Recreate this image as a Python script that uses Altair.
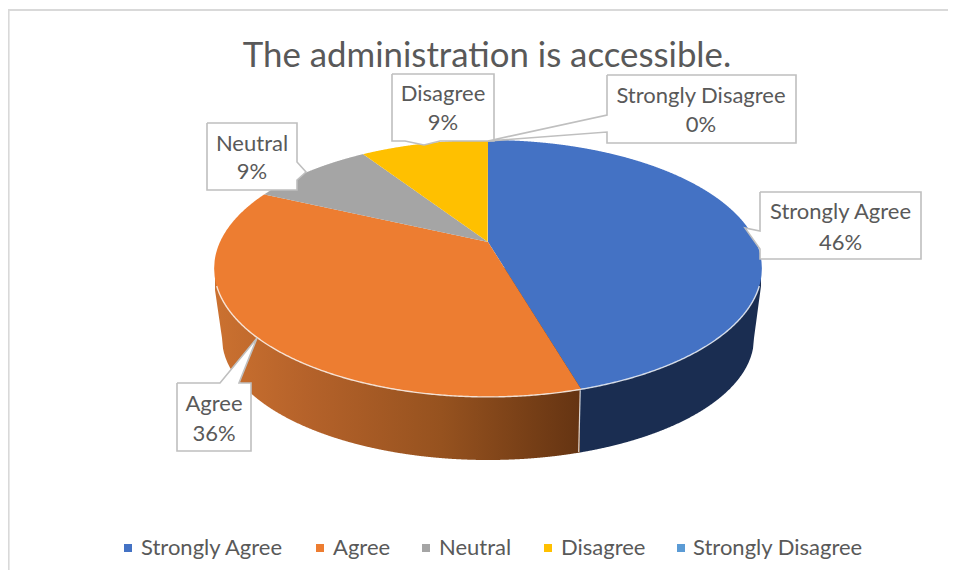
import numpy as np
import pandas as pd
import altair as alt

# ---- data ----
categories = ["Strongly Agree", "Agree", "Neutral", "Disagree", "Strongly Disagree"]
values = [45.5, 36.4, 8.9, 9.2, 0.0]
pct_labels = ["46%", "36%", "9%", "9%", "0%"]
colors = ["#4472C4", "#ED7D31", "#A5A5A5", "#FFC000", "#5B9BD5"]
title_text = "The administration is accessible."

# ---- layout (page pixels) ----
W, H = 940, 562
CX, CY, R, K, A = 488.0, 242.0, 268.0, 0.206, 123.0   # perspective disc
xs = alt.Scale(domain=[8, 948], range=[0, W], nice=False, zero=False)
ys = alt.Scale(domain=[570, 8], range=[H, 0], nice=False, zero=False)
X = lambda f="x": alt.X(f"{f}:Q", scale=xs, axis=None)
Y = lambda f="y": alt.Y(f"{f}:Q", scale=ys, axis=None, stack=False)
FONT = "Lato"
TXT = "#595959"
EDGE = "#BFBFBF"
LABEL_SIZE = 22
TITLE_SIZE = 34.8


def rim(deg):
    t = np.radians(np.asarray(deg, float))
    u, v = np.sin(t), -np.cos(t)
    w = 1 - K * v
    return CX + R * u / w, CY + A * v / w


def scan(px, py, step=0.5):
    """Vertical extent of a closed polygon for each x column."""
    px, py = np.asarray(px, float), np.asarray(py, float)
    grid = np.arange(px.min(), px.max() + step, step)
    grid[-1] = px.max()
    low, high = np.full(grid.shape, np.inf), np.full(grid.shape, -np.inf)
    for i in range(len(px)):
        j = (i + 1) % len(px)
        a, b = min(px[i], px[j]), max(px[i], px[j])
        m = (grid >= a) & (grid <= b)
        if a == b:
            low[m] = np.minimum(low[m], min(py[i], py[j]))
            high[m] = np.maximum(high[m], max(py[i], py[j]))
            continue
        yy = py[i] + (grid[m] - px[i]) * (py[j] - py[i]) / (px[j] - px[i])
        low[m] = np.minimum(low[m], yy)
        high[m] = np.maximum(high[m], yy)
    return grid, low, high


# top face wedges
rows = []
start = 0.0
ends = {}
for cat, val in zip(categories, values):
    end = start + val * 3.6
    ends[cat] = end
    if val > 0:
        rx, ry = rim(np.linspace(start, end, 400))
        gx, lo, hi = scan(np.r_[CX, rx], np.r_[CY, ry])
        rows += [{"cat": cat, "x": a, "y": b, "y2": c} for a, b, c in zip(gx, lo, hi)]
    start = end
top_df = pd.DataFrame(rows)

# side wall: lower ellipse plus tangents up to the rim
ex = np.linspace(-266, 266, 535)
ey = 338 + 122 * np.sqrt(np.clip(1 - (ex / 266) ** 2, 0, 1))
hull_x = np.r_[215.0, 488 + ex, 761.0]
hull_y = np.r_[290.0, ey, 286.0]
split_x, split_y = rim(ends["Strongly Agree"])
wall_x = np.arange(215, 761.5, 0.5)
wall_df = pd.DataFrame({"x": wall_x, "y": 268.0, "y2": np.interp(wall_x, hull_x, hull_y)})
wall_left = wall_df[wall_df.x <= split_x - 1].copy()
wall_right = wall_df[wall_df.x >= split_x - 1.5].copy()

wall_orange = alt.Chart(wall_left).mark_area(
    color=alt.Gradient(
        gradient="linear", x1=0, x2=1, y1=0, y2=0,
        stops=[
            alt.GradientStop(color="#CB7130", offset=0),
            alt.GradientStop(color="#B5622A", offset=0.25),
            alt.GradientStop(color="#96521F", offset=0.62),
            alt.GradientStop(color="#653412", offset=1),
        ],
    )
).encode(x=X(), y=Y(), y2=alt.Y2("y2:Q"))
wall_blue = alt.Chart(wall_right).mark_area(color="#1A2D51").encode(
    x=X(), y=Y(), y2=alt.Y2("y2:Q")
)

top = alt.Chart(top_df).mark_area().encode(
    x=X(), y=Y(), y2=alt.Y2("y2:Q"),
    color=alt.Color("cat:N", scale=alt.Scale(domain=categories, range=colors), legend=None),
)

# front rim highlight and wall divider
fr_deg = np.linspace(90, 270, 500)
frx, fry = rim(fr_deg)
rim_df = pd.DataFrame({"x": frx, "y": fry, "i": np.arange(len(frx))})
rim_line = alt.Chart(rim_df[rim_df.y > 286]).mark_line(
    color="#FFFFFF", strokeWidth=1.4, opacity=0.8
).encode(x=X(), y=Y(), order="i:Q")
div_df = pd.DataFrame({"x": [split_x - 1, split_x - 2.5], "y": [split_y + 1, 452], "i": [0, 1]})
divider = alt.Chart(div_df).mark_line(color="#FFFFFF", strokeWidth=1.2, opacity=0.8).encode(
    x=X(), y=Y(), order="i:Q"
)

# callouts: box (x0, x1, y0, y1), outline vertices with pointer
boxes = {
    "Strongly Agree": (760, 921, 192, 259),
    "Agree": (177, 251, 383, 451),
    "Neutral": (207, 297, 123, 190),
    "Disagree": (392, 494, 74, 141),
    "Strongly Disagree": (607, 796, 75, 143),
}
pointers = {
    "Strongly Agree": [(760, 231), (745, 228), (760, 249)],
    "Agree": [(220, 383), (257, 338), (239, 383)],
    "Neutral": [(297, 162), (306, 172), (297, 180)],
    "Disagree": [(440, 141), (424, 145), (405, 141)],
    "Strongly Disagree": [(607, 115), (488, 141), (607, 132)],
}
box_rows, tri_rows, out_rows = [], [], []
for cat, (x0, x1, y0, y1) in boxes.items():
    box_rows.append({"x": x0, "x2": x1, "y": y0, "y2": y1})
    p = pointers[cat]
    gx, lo, hi = scan([q[0] for q in p], [q[1] for q in p], 0.25)
    tri_rows += [{"cat": cat, "x": a, "y": b, "y2": c} for a, b, c in zip(gx, lo, hi)]
    if cat == "Strongly Agree" or cat == "Strongly Disagree":
        path = [(x0, y0), (x1, y0), (x1, y1), (x0, y1), p[2], p[1], p[0], (x0, y0)]
    elif cat == "Neutral":
        path = [(x0, y0), (x1, y0), p[0], p[1], p[2], (x1, y1), (x0, y1), (x0, y0)]
    elif cat == "Agree":
        path = [(x0, y0), p[0], p[1], p[2], (x1, y0), (x1, y1), (x0, y1), (x0, y0)]
    else:
        path = [(x0, y0), (x1, y0), (x1, y1), p[0], p[1], p[2], (x0, y1), (x0, y0)]
    out_rows += [{"cat": cat, "x": a, "y": b, "i": n} for n, (a, b) in enumerate(path)]

box_fill = alt.Chart(pd.DataFrame(box_rows)).mark_rect(color="#FFFFFF").encode(
    x=X(), x2=alt.X2("x2:Q"), y=alt.Y("y:Q", scale=ys, axis=None), y2=alt.Y2("y2:Q")
)
tri_fill = alt.Chart(pd.DataFrame(tri_rows)).mark_area(color="#FFFFFF").encode(
    x=X(), y=Y(), y2=alt.Y2("y2:Q"), detail="cat:N"
)
outline = alt.Chart(pd.DataFrame(out_rows)).mark_line(color=EDGE, strokeWidth=1.6).encode(
    x=X(), y=Y(), detail="cat:N", order="i:Q"
)

label_pos = {
    "Strongly Agree": (840.5, 212, 243),
    "Agree": (214, 404, 434),
    "Neutral": (252, 144, 172),
    "Disagree": (443, 94, 123),
    "Strongly Disagree": (701, 96, 125),
}
text_rows = []
for cat, pct in zip(categories, pct_labels):
    lx, y1, y2 = label_pos[cat]
    text_rows += [{"x": lx, "y": y1, "t": cat}, {"x": lx, "y": y2, "t": pct}]
labels = alt.Chart(pd.DataFrame(text_rows)).mark_text(
    font=FONT, fontSize=LABEL_SIZE, color=TXT, align="center", baseline="middle"
).encode(x=X(), y=alt.Y("y:Q", scale=ys, axis=None), text="t:N")

# legend
swatch_x = [128, 320, 426, 548, 681]
text_x = [141, 333, 439, 561, 693]
legend_df = pd.DataFrame({"cat": categories, "sx": swatch_x, "tx": text_x, "y": [548] * 5})
leg_sw = alt.Chart(legend_df).mark_point(shape="square", filled=True, size=64, opacity=1).encode(
    x=X("sx"), y=alt.Y("y:Q", scale=ys, axis=None),
    color=alt.Color("cat:N", scale=alt.Scale(domain=categories, range=colors), legend=None),
)
leg_tx = alt.Chart(legend_df).mark_text(
    font=FONT, fontSize=LABEL_SIZE, color=TXT, align="left", baseline="middle"
).encode(x=X("tx"), y=alt.Y("y:Q", scale=ys, axis=None), text="cat:N")

# frame
frame_df = pd.DataFrame({"x": [8, 8.6], "x2": [948, 8.6], "y": [10, 10], "y2": [10, 570]})
frame_h = alt.Chart(frame_df.iloc[[0]]).mark_rule(color="#D9D9D9", strokeWidth=2).encode(
    x=X(), x2=alt.X2("x2:Q"), y=alt.Y("y:Q", scale=ys, axis=None)
)
frame_v = alt.Chart(frame_df.iloc[[1]]).mark_rule(color="#D9D9D9", strokeWidth=2).encode(
    x=X(), y=alt.Y("y:Q", scale=ys, axis=None), y2=alt.Y2("y2:Q")
)

chart = alt.layer(
    frame_h, frame_v, wall_orange, wall_blue, top, rim_line, divider,
    box_fill, tri_fill, outline, labels, leg_sw, leg_tx,
).properties(
    width=W, height=H, padding=0,
    autosize=alt.AutoSizeParams(type="none"),
    title=alt.TitleParams(
        title_text, font=FONT, fontSize=TITLE_SIZE, fontWeight="normal", color=TXT,
        anchor="middle", dx=9, dy=84, baseline="middle", offset=0,
    ),
).configure_view(stroke=None)

chart.save("out.html", embed_options={"renderer": "svg", "actions": False})
